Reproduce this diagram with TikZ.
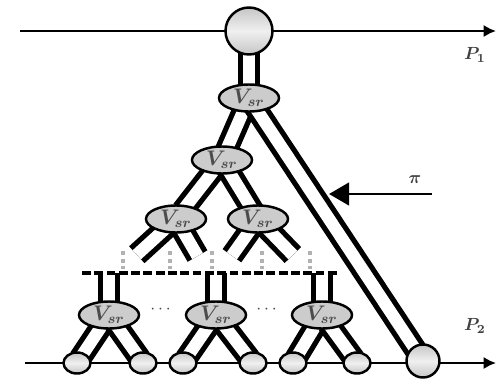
\documentclass[tikz,border=0pt]{standalone}
\usepackage{amsmath,amssymb}
\usetikzlibrary{arrows.meta,positioning,shapes.geometric,backgrounds}

\begin{document}
\begin{tikzpicture}[x=0.02cm,y=-0.02cm,
  font=\small,
  vsr/.style={ellipse,draw=black,line width=1.4pt,fill=gray!40,minimum width=1.2cm,
              minimum height=0.54cm,inner sep=0pt,font=\large\boldmath,text=black!70},
  rt/.style={circle,draw=black,line width=1.4pt,top color=gray!45,bottom color=gray!45,
             middle color=gray!12,minimum size=0.94cm,inner sep=0pt},
  lf/.style={ellipse,draw=black,line width=1.4pt,top color=gray!45,bottom color=gray!45,
             middle color=gray!12,minimum width=0.54cm,minimum height=0.42cm,inner sep=0pt},
  pipe/.style={line width=3pt,double=white,double distance=7pt,
               shorten <=-4pt,shorten >=-4pt},
  pl/.style={line width=1.6pt,-{Latex[length=2.5mm,width=2.5mm]}},
  lb/.style={font=\normalsize\boldmath,text=black!75},
  dt/.style={text=gray!55!black,font=\bfseries},
  vd/.style={gray!60,line width=2pt,dash pattern=on 2.2pt off 2.2pt},
]
\useasboundingbox (0,0) rectangle (497,379);

% the two paths
\coordinate (p1a) at (20,31);  \coordinate (p1b) at (496,31);
\coordinate (p2a) at (25,363); \coordinate (p2b) at (496,363);
\node[lb] (P1) at (475,55)  {$P_1$};
\node[lb] (P2) at (475,326) {$P_2$};

% source and upper tree
\node[rt] (src) at (249,31) {};
\node[vsr] (v0)  at (249,98)  {$V_{sr}$};
\node[vsr] (v1)  at (222,160) {$V_{sr}$};
\node[vsr] (v11) at (176,219) {$V_{sr}$};
\node[vsr] (v12) at (258,219) {$V_{sr}$};

% lower tree
\node[vsr] (b1) at (109,315) {$V_{sr}$};
\node[vsr] (b2) at (216,315) {$V_{sr}$};
\node[vsr] (b3) at (322,315) {$V_{sr}$};
\node[dt] (c1) at (162,310) {$\cdots$};
\node[dt] (c2) at (268,310) {$\cdots$};

% receivers on P2
\node[lf] (l1) at (77,363)  {};
\node[lf] (l2) at (143,363) {};
\node[lf] (l3) at (183,363) {};
\node[lf] (l4) at (253,363) {};
\node[lf] (l5) at (293,363) {};
\node[lf] (l6) at (357,363) {};
\node[rt,minimum size=0.66cm] (dst) at (423,361) {};

% open branches
\coordinate (s11) at (142,250); \coordinate (s12) at (194,250);
\coordinate (s21) at (236,250); \coordinate (s22) at (288,250);
\coordinate (u1) at (109,280); \coordinate (u2) at (216,280); \coordinate (u3) at (322,280);
\coordinate (da) at (82,273); \coordinate (db) at (338,273);

% tap on the long link
\coordinate (tap) at (329,194);
\coordinate (pin) at (432,194);
\node[lb] (pi) at (415,180) {$\pi$};

\begin{scope}[on background layer]
  \draw[pl] (p1a) -- (p1b);
  \draw[pl] (p2a) -- (p2b);
  \draw[pipe] (src) -- (v0);
  \draw[pipe] (v0) -- (v1);
  \draw[pipe] (v0) -- (dst);
  \draw[pipe] (v1) -- (v11);
  \draw[pipe] (v1) -- (v12);
  \draw[pipe] (v11) -- (s11); \draw[pipe] (v11) -- (s12);
  \draw[pipe] (v12) -- (s21); \draw[pipe] (v12) -- (s22);
  \foreach \i in {1,2,3} \draw[pipe] (b\i) -- (u\i);
  \draw[pipe] (b1) -- (l1); \draw[pipe] (b1) -- (l2);
  \draw[pipe] (b2) -- (l3); \draw[pipe] (b2) -- (l4);
  \draw[pipe] (b3) -- (l5); \draw[pipe] (b3) -- (l6);
  \draw[line width=2.4pt,dash pattern=on 5pt off 2pt] (da) -- (db);
\end{scope}
% gaps in the tree
\foreach \x in {123,170,212,262,310}
  \draw[vd] (\x,251) -- (\x,269);
\draw[line width=1.6pt,-{Triangle[length=4mm,width=4.5mm]}] (pin) -- (tap);
\end{tikzpicture}
\end{document}
